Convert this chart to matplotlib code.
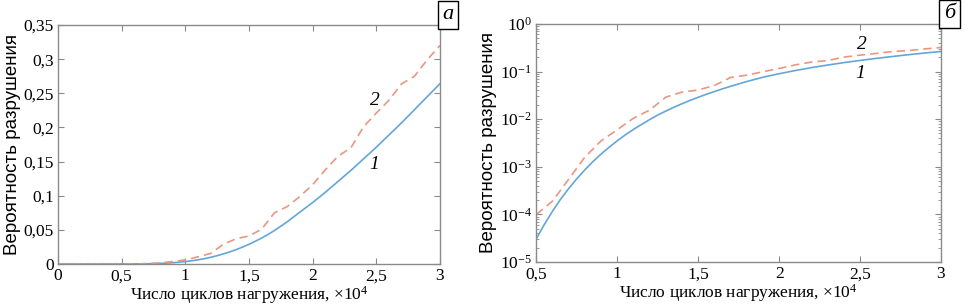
import matplotlib
matplotlib.use("Agg")
import matplotlib.pyplot as plt
from matplotlib.ticker import FixedLocator, FixedFormatter, LogLocator, NullFormatter
import numpy as np

# ---------------- data ----------------
# curve 1 (solid)
cycles_1 = [0.0, 0.1, 0.2, 0.3, 0.4, 0.5, 0.55, 0.6, 0.65, 0.7, 0.75, 0.8, 0.85, 0.9, 0.95,
            1.0, 1.05, 1.1, 1.15, 1.2, 1.25, 1.3, 1.35, 1.4, 1.45, 1.5, 1.55, 1.6, 1.65, 1.7,
            1.8, 1.9, 2.0, 2.1, 2.2, 2.3, 2.4, 2.5, 2.6, 2.7, 2.8, 2.9, 3.0]
prob_1 = [0.0, 1e-8, 1e-7, 1e-6, 6e-6, 3.1e-5, 6.2e-5, 1.17e-4, 2.09e-4, 3.5e-4, 5.6e-4, 8.65e-4,
          1.29e-3, 1.85e-3, 2.58e-3, 3.52e-3, 4.68e-3, 6.1e-3, 7.76e-3, 9.8e-3, 0.0122, 0.0148,
          0.0178, 0.0211, 0.0248, 0.0288, 0.0333, 0.038, 0.0433, 0.049,
          0.0617, 0.076, 0.090, 0.105, 0.121, 0.137, 0.154, 0.171, 0.189, 0.207, 0.226, 0.245, 0.264]
# curve 2 (dashed)
cycles_2 = [0.0, 0.1, 0.2, 0.3, 0.4, 0.5, 0.6, 0.7, 0.8, 0.9, 1.0,
            1.1, 1.2, 1.3, 1.4, 1.5, 1.6, 1.7, 1.8, 1.9, 2.0,
            2.1, 2.2, 2.3, 2.4, 2.5, 2.6, 2.7, 2.8, 2.9, 3.0]
prob_2 = [0.0, 1e-7, 1e-6, 8e-6, 3e-5, 1.0e-4, 1.9e-4, 5.5e-4, 1.6e-3, 3.5e-3, 6.0e-3,
          0.0105, 0.0155, 0.029, 0.037, 0.041, 0.051, 0.075, 0.084, 0.099, 0.116,
          0.138, 0.158, 0.170, 0.201, 0.221, 0.240, 0.264, 0.275, 0.299, 0.320]

xticks_lin = [0, 0.5, 1, 1.5, 2, 2.5, 3]
xticklabels_lin = ["0", "0,5", "1", "1,5", "2", "2,5", "3"]
yticks_lin = [0, 0.05, 0.1, 0.15, 0.2, 0.25, 0.3, 0.35]
yticklabels_lin = ["0", "0,05", "0,1", "0,15", "0,2", "0,25", "0,3", "0,35"]
xticks_log = [0.5, 1, 1.5, 2, 2.5, 3]
xticklabels_log = ["0,5", "1", "1,5", "2", "2,5", "3"]
yticks_log = [1e-5, 1e-4, 1e-3, 1e-2, 1e-1, 1e0]
yticklabels_log = [r"10$^{-5}$", r"10$^{-4}$", r"10$^{-3}$", r"10$^{-2}$", r"10$^{-1}$", r"10$^{0}$"]

xlabel = "Число циклов нагружения, ×10$^{4}$"
ylabel = "Вероятность разрушения"
panel_labels = ["а", "б"]
# ---------------------------------------

SERIF = ["Liberation Serif", "DejaVu Serif"]
SANS = ["Liberation Sans", "DejaVu Sans"]
plt.rcParams["font.family"] = SERIF
plt.rcParams["mathtext.fontset"] = "custom"
plt.rcParams["mathtext.rm"] = "Liberation Serif"
plt.rcParams["mathtext.it"] = "Liberation Serif:italic"
plt.rcParams["mathtext.default"] = "regular"

BLUE = "#64a6d8"
ORANGE = "#eb9680"
SPINE = "#8a8a8a"

fig = plt.figure(figsize=(9.68, 3.06), dpi=100)
ax1 = fig.add_axes([0.0599, 0.1373, 0.3946, 0.781])
ax2 = fig.add_axes([0.5541, 0.1438, 0.418, 0.778])

x1 = np.array(cycles_1)
x2 = np.array(cycles_2)
p1 = np.array(prob_1)
p2 = np.array(prob_2)


def style(ax):
    for s in ax.spines.values():
        s.set_color(SPINE)
        s.set_linewidth(1.0)
    ax.tick_params(which="both", direction="in", top=True, right=True,
                   color=SPINE, labelsize=12.5, pad=3)
    ax.tick_params(which="major", length=4)
    ax.tick_params(which="minor", length=2)
    ax.set_xlabel(xlabel, fontsize=12.5, labelpad=0)
    ax.set_ylabel(ylabel, family=SANS, fontsize=13.5, labelpad=2)


# ---- panel a (linear) ----
ax1.plot(x1, p1, color=BLUE, lw=1.2)
ax1.plot(x2, p2, color=ORANGE, lw=1.2, ls=(0, (5, 3)))
ax1.set_xlim(0, 3)
ax1.set_ylim(0, 0.35)
ax1.xaxis.set_major_locator(FixedLocator(xticks_lin))
ax1.xaxis.set_major_formatter(FixedFormatter(xticklabels_lin))
ax1.yaxis.set_major_locator(FixedLocator(yticks_lin))
ax1.yaxis.set_major_formatter(FixedFormatter(yticklabels_lin))
style(ax1)
ax1.text(2.48, 0.146, "1", style="italic", fontsize=14, ha="center", va="center")
ax1.text(2.49, 0.239, "2", style="italic", fontsize=14, ha="center", va="center")

# ---- panel b (log) ----
m1 = x1 >= 0.5
m2 = x2 >= 0.5
ax2.semilogy(x1[m1], p1[m1], color=BLUE, lw=1.2)
ax2.semilogy(x2[m2], p2[m2], color=ORANGE, lw=1.2, ls=(0, (5, 3)))
ax2.set_xlim(0.5, 3)
ax2.set_ylim(1e-5, 1)
ax2.xaxis.set_major_locator(FixedLocator(xticks_log))
ax2.xaxis.set_major_formatter(FixedFormatter(xticklabels_log))
ax2.yaxis.set_major_locator(FixedLocator(yticks_log))
ax2.yaxis.set_major_formatter(FixedFormatter(yticklabels_log))
ax2.yaxis.set_minor_locator(LogLocator(base=10, subs=np.arange(2, 10), numticks=20))
ax2.yaxis.set_minor_formatter(NullFormatter())
style(ax2)
ax2.text(2.50, 0.093, "1", style="italic", fontsize=14, ha="center", va="center")
ax2.text(2.51, 0.363, "2", style="italic", fontsize=14, ha="center", va="center")

# ---- boxed panel letters ----
for ax, lab in zip([ax1, ax2], panel_labels):
    ax.text(1.007, 1.003, lab, transform=ax.transAxes, style="italic",
            fontsize=16, ha="left", va="bottom",
            bbox=dict(boxstyle="square,pad=0.2", fc="white", ec="black", lw=1.0))

fig.savefig("out.png", dpi=100)
